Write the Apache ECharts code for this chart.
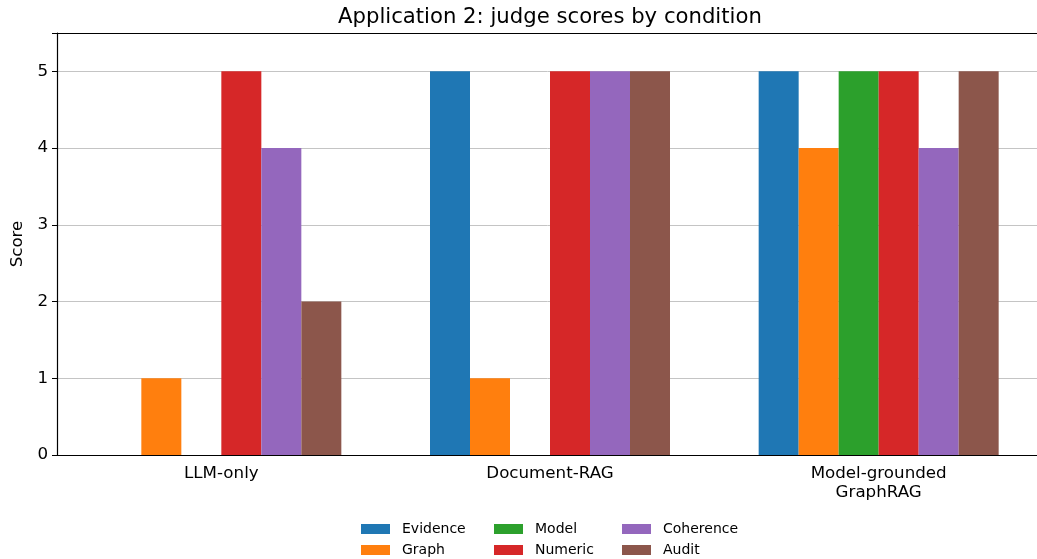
<!doctype html>
<html>
<head>
    <meta charset="utf-8">
    <title>Application 2: judge scores</title>
    <script src="https://cdn.jsdelivr.net/npm/echarts@6/dist/echarts.min.js"></script>
    <style>
        body { margin: 0; background: #fff; }
        #main { width: 1037px; height: 559px; }
    </style>
</head>
<body>
    <div id="main"></div>
<script type="text/javascript">
    // data
    var conditions = ['LLM-only', 'Document-RAG', 'Model-grounded\nGraphRAG'];
    var criteria = ['Evidence', 'Graph', 'Model', 'Numeric', 'Coherence', 'Audit'];
    var evidence  = [0, 5, 5];
    var graph     = [1, 1, 4];
    var model     = [0, 0, 5];
    var numeric   = [5, 5, 5];
    var coherence = [4, 5, 4];
    var audit     = [2, 5, 5];
    var yTicks = [0, 1, 2, 3, 4, 5];

    var colors = ['#1f77b4', '#ff7f0e', '#2ca02c', '#d62728', '#9467bd', '#8c564b'];
    var values = [evidence, graph, model, numeric, coherence, audit];
    var font = 'DejaVu Sans';

    var myChart = echarts.init(document.getElementById('main'), null, { renderer: 'canvas' });

    var series = [];
    for (var i = 0; i < criteria.length; i++) {
        series.push({
            name: criteria[i],
            type: 'bar',
            data: values[i],
            barWidth: 40,
            barGap: '0%',
            itemStyle: { color: colors[i] },
            emphasis: { disabled: true }
        });
    }

    // three legend columns, each holding two items (column-major like matplotlib)
    var legendCols = [[criteria[0], criteria[1]], [criteria[2], criteria[3]], [criteria[4], criteria[5]]];
    var legendLeft = [361, 494, 622];
    var legends = legendCols.map(function (names, k) {
        return {
            data: names,
            orient: 'vertical',
            left: legendLeft[k],
            top: 522,
            itemWidth: 29,
            itemHeight: 10,
            itemGap: 7,
            icon: 'rect',
            selectedMode: false,
            padding: 0,
            textStyle: { fontFamily: font, fontSize: 14, color: '#000', padding: [0, 0, 0, 7] }
        };
    });

    var option = {
        animation: false,
        color: colors,
        title: {
            text: 'Application 2: judge scores by condition',
            left: 333,
            top: 2,
            textStyle: { fontFamily: font, fontSize: 21.2, fontWeight: 'normal', color: '#000' }
        },
        legend: legends,
        // plot area runs past the right edge of the picture, as in the reference
        grid: { left: 57, width: 986, top: 33, bottom: 104, containLabel: false, outerBoundsMode: 'none' },
        xAxis: [{
            type: 'category',
            data: conditions,
            axisLine: { lineStyle: { color: '#000', width: 1.2 } },
            axisTick: { alignWithLabel: true, length: 5, lineStyle: { color: '#000' } },
            axisLabel: { fontFamily: font, fontSize: 16.7, color: '#000', margin: 9, lineHeight: 19, interval: 0 }
        }, {
            type: 'category',
            position: 'top',
            data: conditions,
            axisLine: { lineStyle: { color: '#000', width: 1.2 } },
            axisTick: { show: false },
            axisLabel: { show: false }
        }],
        yAxis: {
            type: 'value',
            min: 0,
            max: 5.5,
            interval: 1,
            name: 'Score',
            nameLocation: 'middle',
            nameGap: 31,
            nameTextStyle: { fontFamily: font, fontSize: 16.7, color: '#000' },
            axisLine: { show: true, lineStyle: { color: '#000', width: 1.2 } },
            axisTick: { show: true, length: 5, lineStyle: { color: '#000' } },
            axisLabel: {
                fontFamily: font, fontSize: 16.7, color: '#000', margin: 9,
                formatter: function (v) { return yTicks.indexOf(v) >= 0 ? String(v) : ''; }
            },
            splitLine: { show: true, lineStyle: { color: '#c4c4c4', width: 1 } }
        },
        series: series
    };

    myChart.setOption(option);
</script>
</body>
</html>
